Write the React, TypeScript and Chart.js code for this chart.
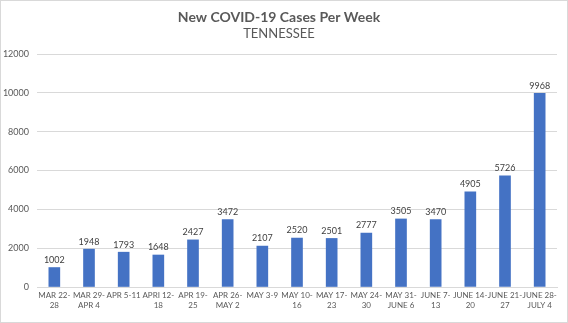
import React, { useEffect, useRef } from "react";
import { Chart, registerables } from "chart.js";

Chart.register(...registerables);

const categories: (string | string[])[] = [
  ["MAR 22-", "28"],
  ["MAR 29-", "APR 4"],
  "APR 5-11",
  ["APRI 12-", "18"],
  ["APR 19-", "25"],
  ["APR 26-", "MAY 2"],
  "MAY 3-9",
  ["MAY 10-", "16"],
  ["MAY 17-", "23"],
  ["MAY 24-", "30"],
  ["MAY 31-", "JUNE 6"],
  ["JUNE 7-", "13"],
  ["JUNE 14-", "20"],
  ["JUNE 21-", "27"],
  ["JUNE 28-", "JULY 4"],
];

const cases: number[] = [1002, 1948, 1793, 1648, 2427, 3472, 2107, 2520, 2501, 2777, 3505, 3470, 4905, 5726, 9968];

const yTicks: number[] = [0, 2000, 4000, 6000, 8000, 10000, 12000];

const FONT = "Lato, 'Open Sans', sans-serif";

const valueLabels = {
  id: "valueLabels",
  afterDatasetsDraw(chart: any) {
    const ctx = chart.ctx;
    const meta = chart.getDatasetMeta(0);
    ctx.save();
    ctx.font = `9px ${FONT}`;
    ctx.fillStyle = "#404040";
    ctx.textAlign = "center";
    ctx.textBaseline = "bottom";
    meta.data.forEach((bar: any, i: number) => {
      ctx.fillText(String(chart.data.datasets[0].data[i]), bar.x, bar.y - 3);
    });
    ctx.restore();
  },
};

export default function App() {
  const ref = useRef<HTMLCanvasElement>(null);
  useEffect(() => {
    if (!ref.current) return;
    const chart = new Chart(ref.current, {
      type: "bar",
      data: {
        labels: categories,
        datasets: [
          {
            data: cases,
            backgroundColor: "#4472C4",
            barThickness: 11,
          },
        ],
      },
      options: {
        animation: false,
        responsive: true,
        maintainAspectRatio: false,
        layout: { padding: { left: 0, right: 10, top: 0, bottom: 10 } },
        plugins: {
          legend: { display: false },
          tooltip: { enabled: false },
          title: {
            display: true,
            text: "New COVID-19 Cases Per Week",
            color: "#595959",
            font: { family: FONT, size: 14, weight: "bold" },
            padding: { top: 7.6, bottom: 0.8 },
          },
          subtitle: {
            display: true,
            text: "TENNESSEE",
            color: "#595959",
            font: { family: FONT, size: 13 },
            padding: { top: 0, bottom: 12.2 },
          },
        },
        scales: {
          x: {
            grid: { display: false, drawTicks: false },
            border: { display: true, color: "#D9D9D9" },
            ticks: {
              color: "#595959",
              font: { family: FONT, size: 8 },
              maxRotation: 0,
              autoSkip: false,
              padding: 4,
            },
            afterFit: (s: any) => {
              s.height = 25;
            },
          },
          y: {
            min: 0,
            max: 12000,
            afterBuildTicks: (s: any) => {
              s.ticks = yTicks.map((v) => ({ value: v }));
            },
            grid: { color: "#D9D9D9", drawTicks: false },
            border: { display: false },
            ticks: {
              color: "#595959",
              font: { family: FONT, size: 9 },
              padding: 8,
              callback: (v: any) => String(v),
            },
            afterFit: (s: any) => {
              s.width = 36;
            },
          },
        },
      },
      plugins: [valueLabels],
    });
    return () => chart.destroy();
  }, []);
  return (
    <div
      style={{
        position: "fixed",
        left: 0,
        top: 0,
        width: 568,
        height: 323,
        boxSizing: "border-box",
        border: "1px solid #D9D9D9",
        background: "#fff",
      }}
    >
      <canvas ref={ref} />
    </div>
  );
}
